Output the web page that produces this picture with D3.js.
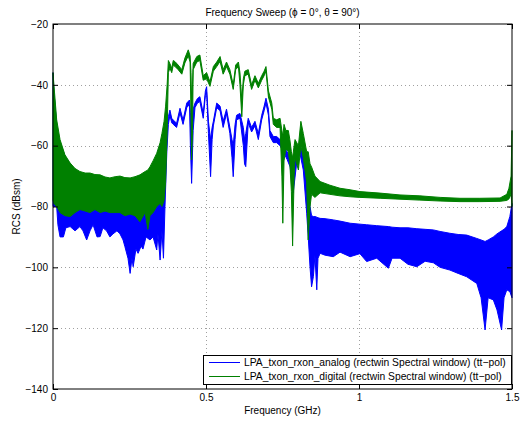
<!DOCTYPE html>
<html><head><meta charset="utf-8">
<script src="https://cdn.jsdelivr.net/npm/d3@7"></script>
<style>
body{margin:0;background:#fff;}
text{font-family:"Liberation Sans",Arial,Helvetica,sans-serif;}
</style></head>
<body><svg id="c" width="526" height="421"></svg>
<script>
// ---- data ----
const xTicks = [0, 0.5, 1, 1.5];
const yTicks = [-140, -120, -100, -80, -60, -40, -20];
const seriesNames = [
  "LPA_txon_rxon_analog (rectwin Spectral window) (tt\u2212pol)",
  "LPA_txon_rxon_digital (rectwin Spectral window) (tt\u2212pol)"
];
// analog (blue): frequency, upper envelope, lower envelope (dBsm)
const freqA = [0,0.003,0.012,0.016,0.023,0.034,0.042,0.056,0.072,0.088,0.098,0.110,0.121,0.131,0.144,0.154,0.163,0.175,0.186,0.196,0.209,0.219,0.229,0.235,0.245,0.252,0.258,0.262,0.271,0.278,0.288,0.294,0.304,0.317,0.327,0.339,0.343,0.350,0.356,0.361,0.366,0.372,0.377,0.382,0.388,0.393,0.404,0.415,0.425,0.437,0.446,0.449,0.453,0.458,0.464,0.472,0.480,0.491,0.498,0.502,0.508,0.515,0.520,0.524,0.535,0.546,0.556,0.567,0.578,0.585,0.589,0.595,0.600,0.611,0.622,0.626,0.630,0.638,0.649,0.660,0.671,0.682,0.690,0.696,0.704,0.709,0.720,0.731,0.742,0.752,0.765,0.775,0.785,0.796,0.807,0.818,0.829,0.834,0.840,0.845,0.851,0.856,0.862,0.866,0.873,0.889,0.916,0.938,0.971,1.003,1.025,1.058,1.096,1.108,1.134,1.160,1.189,1.216,1.243,1.265,1.297,1.324,1.352,1.385,1.399,1.412,1.422,1.439,1.451,1.466,1.474,1.483,1.493,1.500];
const hiA = [-36,-42,-53,-56,-59,-62,-64,-66,-68,-69,-69.5,-70,-70,-70,-70,-70.5,-71,-71,-71.5,-71,-71,-71,-71,-71.5,-71.5,-71.5,-71,-71,-71,-70.5,-70,-69.5,-69,-68,-66,-63.5,-62,-60,-58,-65,-60,-54,-50.5,-48.3,-51,-51.6,-52.6,-47.7,-51.6,-46,-45,-49,-55,-48,-46,-44.5,-43.9,-49.4,-42,-40.6,-52,-58,-54,-52,-46,-47,-52,-48,-54,-58,-60,-53,-50,-49.4,-54,-58,-56,-51,-54,-52,-56,-50,-47,-44.4,-48,-55,-57,-57,-58,-60,-62,-64,-68,-62,-60,-63,-70,-75,-80,-83,-83.3,-83.3,-83.5,-83.7,-83.9,-84,-84.4,-84.8,-85.5,-85.8,-86,-86.3,-86.6,-86.8,-87,-87,-87.3,-87.5,-87.7,-88.2,-88.8,-89.2,-89.4,-90.5,-91,-91.5,-91,-90,-89,-88,-87.5,-86.6,-83.3,-79];
const loA = [-80,-80,-80,-86,-90,-90,-87,-86.6,-88,-86.6,-88,-91,-88,-86,-90,-89.9,-87,-88,-90,-89,-88,-89,-91,-93.2,-97,-102,-97,-99.8,-94,-95.4,-93,-94,-90,-91,-90,-94.3,-89,-97.6,-88,-97,-80,-62,-53,-50,-52.5,-53,-54,-49.2,-53,-47.5,-46.5,-60,-72.4,-55,-47.5,-46,-45.5,-51,-43.5,-42.5,-56,-70.2,-58,-53.5,-47.5,-48.5,-54,-49.5,-56,-64,-70.2,-58,-51.5,-51,-60,-66,-66.9,-52.5,-55.5,-53.5,-58,-51.5,-48.5,-46,-50,-57,-59,-59,-60,-62,-64.5,-67,-75.6,-66,-62.5,-68,-82.2,-89.9,-100,-106.4,-103,-96,-107.4,-97,-95.4,-96,-96.5,-95,-96.5,-95.5,-98.1,-97,-100.3,-97,-97,-99,-99.8,-98,-98.5,-100,-100.9,-102,-103.1,-105.3,-110,-120.6,-110,-110.7,-114,-120.6,-110,-107.4,-108,-110];
// digital (green): frequency, upper envelope, lower envelope (dBsm)
const freqD = [0,0.003,0.012,0.023,0.039,0.056,0.072,0.088,0.105,0.121,0.137,0.154,0.170,0.186,0.203,0.219,0.235,0.252,0.268,0.284,0.301,0.310,0.317,0.327,0.339,0.350,0.356,0.363,0.368,0.373,0.377,0.382,0.388,0.393,0.399,0.409,0.421,0.431,0.442,0.448,0.451,0.453,0.456,0.458,0.470,0.480,0.491,0.502,0.513,0.524,0.535,0.546,0.556,0.567,0.578,0.589,0.597,0.606,0.611,0.617,0.622,0.627,0.638,0.649,0.660,0.671,0.682,0.690,0.696,0.704,0.715,0.720,0.731,0.742,0.748,0.751,0.755,0.761,0.769,0.774,0.779,0.783,0.788,0.791,0.802,0.810,0.818,0.829,0.834,0.840,0.845,0.856,0.873,0.905,0.938,0.971,1.003,1.069,1.134,1.199,1.265,1.330,1.395,1.461,1.483,1.490,1.497,1.500];
const hiD = [-36,-40,-51.5,-58,-63,-65.7,-67.5,-68.5,-69,-69,-69.5,-69.6,-70.3,-70.6,-70.2,-70,-70.5,-70.6,-70.2,-69.6,-68.5,-68,-66.9,-65,-62.5,-59,-56,-52,-47,-40,-32,-33,-34.6,-32,-32.4,-33.5,-35,-31.2,-28.5,-30.5,-36,-45,-40,-33,-30.7,-30.2,-37,-36,-39,-34,-32.5,-30.7,-35,-32.5,-35,-40,-33.5,-32.5,-36,-45,-38,-35.5,-35,-40,-37,-39.5,-37,-35.5,-34,-42,-46,-51,-51.5,-51,-55,-57,-53,-55,-55,-58,-62,-64,-60,-58,-60,-52,-56,-62,-62,-66,-67,-70,-71.8,-73,-74,-74.5,-75.1,-75.6,-76.2,-76.5,-77,-77.3,-77.3,-77.2,-76,-74,-70,-55];
const loD = [-78,-79,-80,-82,-83,-83.3,-82,-81,-81.5,-82,-81,-82,-81.5,-82,-82,-82,-83,-82.5,-83,-85,-82,-87.5,-83,-82,-80,-79,-80,-78,-72,-56,-36,-34.5,-36,-33.5,-34,-35,-36.5,-32.8,-30.5,-32.5,-50,-64.7,-55,-35,-32.5,-32,-38.5,-38,-40.5,-35.5,-34,-32.3,-36.5,-34,-36.5,-41.5,-35,-34,-40,-50.5,-40,-37,-36.5,-41.5,-38.5,-41,-38.5,-37,-35.5,-44,-48,-53,-54,-54,-70,-85.5,-65,-61,-62,-66,-75,-93,-70,-64,-68,-60,-64,-72,-91,-80,-76,-77,-75.5,-76,-76.5,-76.8,-77,-77.3,-77.6,-77.9,-78.2,-78.4,-78.4,-78.3,-78,-77.5,-76,-80];

// ---- layout ----
const svg = d3.select("#c");
const L = 53, R = 512, T = 24, B = 389;
const x = d3.scaleLinear().domain([0, 1.5]).range([L, R]);
const y = d3.scaleLinear().domain([-140, -20]).range([B, T]);
const fmt = d => d < 0 ? "\u2212" + Math.abs(d) : String(d);

svg.append("rect").attr("x", L).attr("y", T).attr("width", R - L).attr("height", B - T).attr("fill", "#fff");

// grid
const grid = svg.append("g").attr("stroke", "#a0a0a0").attr("stroke-width", 1).attr("stroke-dasharray", "1,3");
grid.selectAll(".gx").data(xTicks.filter(d => d > 0 && d < 1.5)).join("line")
  .attr("x1", d => Math.round(x(d)) + 0.5).attr("x2", d => Math.round(x(d)) + 0.5).attr("y1", T).attr("y2", B);
grid.selectAll(".gy").data(yTicks.filter(d => d > -140 && d < -20)).join("line")
  .attr("y1", d => Math.round(y(d)) + 0.5).attr("y2", d => Math.round(y(d)) + 0.5).attr("x1", L).attr("x2", R);

// series
function drawSeries(freq, hi, lo, color) {
  const pts = freq.map((f, i) => ({ f, hi: hi[i], lo: lo[i] }));
  const area = d3.area().x(d => x(d.f)).y0(d => y(d.lo)).y1(d => y(d.hi));
  svg.append("path").datum(pts).attr("d", area)
    .attr("fill", color).attr("stroke", color).attr("stroke-width", 1).attr("stroke-linejoin", "round");
}
drawSeries(freqA, hiA, loA, "#0000ff");
drawSeries(freqD, hiD, loD, "#008000");

// axes
const ax = svg.append("g").attr("font-size", 10);
const yAxisL = d3.axisLeft(y).tickValues(yTicks).tickSizeInner(-5).tickSizeOuter(0).tickPadding(5).tickFormat(fmt);
const yAxisR = d3.axisRight(y).tickValues(yTicks).tickSizeInner(-5).tickSizeOuter(0).tickFormat("");
const xAxisB = d3.axisBottom(x).tickValues(xTicks).tickSizeInner(-5).tickSizeOuter(0).tickPadding(5).tickFormat(d => String(d));
const xAxisT = d3.axisTop(x).tickValues(xTicks).tickSizeInner(-5).tickSizeOuter(0).tickFormat("");
function styleAxis(g) {
  g.select(".domain").remove();
  g.selectAll("line").attr("stroke", "#000");
  g.selectAll("text").attr("fill", "#000").attr("font-family", "Liberation Sans, Arial, sans-serif").attr("font-size", 10);
}
ax.append("g").attr("transform", `translate(${L},0)`).call(yAxisL).call(styleAxis);
ax.append("g").attr("transform", `translate(${R},0)`).call(yAxisR).call(styleAxis);
ax.append("g").attr("transform", `translate(0,${B})`).call(xAxisB).call(styleAxis);
ax.append("g").attr("transform", `translate(0,${T})`).call(xAxisT).call(styleAxis);
svg.append("rect").attr("x", L).attr("y", T).attr("width", R - L).attr("height", B - T)
  .attr("fill", "none").attr("stroke", "#000").attr("stroke-width", 1);

// titles
svg.append("text").attr("x", (L + R) / 2).attr("y", 16).attr("text-anchor", "middle").attr("font-size", 10)
  .text("Frequency Sweep (\u03d5 = 0\u00b0, \u03b8 = 90\u00b0)");
svg.append("text").attr("x", (L + R) / 2).attr("y", 414).attr("text-anchor", "middle").attr("font-size", 10)
  .text("Frequency (GHz)");
svg.append("text").attr("transform", `translate(20,${(T + B) / 2}) rotate(-90)`).attr("text-anchor", "middle").attr("font-size", 10)
  .text("RCS (dBsm)");

// legend
const colors = ["#0000ff", "#008000"];
const lg = svg.append("g");
lg.append("rect").attr("x", 203.5).attr("y", 355.5).attr("width", 308).attr("height", 29)
  .attr("fill", "#fff").attr("stroke", "#000").attr("stroke-width", 1);
seriesNames.forEach((n, i) => {
  const yy = 362.5 + i * 14;
  lg.append("line").attr("x1", 209).attr("x2", 240).attr("y1", yy).attr("y2", yy).attr("stroke", colors[i]).attr("stroke-width", 1);
  lg.append("text").attr("x", 244).attr("y", yy + 3.5).attr("font-size", 10.3).text(n);
});
</script></body></html>
